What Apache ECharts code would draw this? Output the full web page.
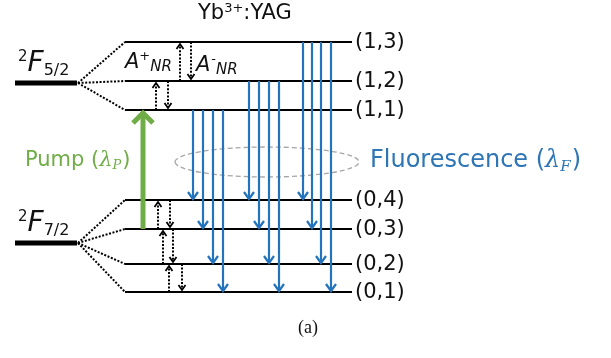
<!DOCTYPE html>
<html><head><meta charset="utf-8">
<script src="https://cdn.jsdelivr.net/npm/echarts@6/dist/echarts.min.js"></script>
<style>html,body{margin:0;padding:0;background:#fff}#c{width:611px;height:358px}</style>
</head><body><div id="c"></div>
<script>
// ---- Data: Stark sub-levels of Yb3+:YAG (diagram units, 0 = top) ----
const levelNames  = ['(1,3)','(1,2)','(1,1)','(0,4)','(0,3)','(0,2)','(0,1)'];
const levelValues = [42, 81, 110, 200, 229, 264, 292];
const levelSpan   = [125, 352];
// Manifolds
const manifoldSub   = ['5/2', '7/2'];
const manifoldValues = [83, 243];
const manifoldSpan  = [15, 77];
const manifoldLevels = [['(1,3)','(1,2)','(1,1)'], ['(0,4)','(0,3)','(0,2)','(0,1)']];
// Fluorescence transitions
const fluoFrom = ['(1,1)','(1,1)','(1,1)','(1,1)','(1,2)','(1,2)','(1,2)','(1,2)','(1,3)','(1,3)','(1,3)','(1,3)'];
const fluoTo   = ['(0,4)','(0,3)','(0,2)','(0,1)','(0,4)','(0,3)','(0,2)','(0,1)','(0,4)','(0,3)','(0,2)','(0,1)'];
const fluoX    = [193, 203, 213, 223, 249, 259, 269, 279, 303, 312, 321, 331];
// Non-radiative thermalisation (A+NR up, A-NR down)
const nrUpper = ['(1,3)','(1,2)','(0,4)','(0,3)','(0,2)'];
const nrLower = ['(1,2)','(1,1)','(0,3)','(0,2)','(0,1)'];
const nrUpX   = [180, 156, 158, 163, 169];
const nrDownX = [191, 168, 170, 173, 182];
// Pump transition
const pumpFrom = '(0,3)', pumpTo = '(1,1)', pumpX = 143;

const FONT = 'DejaVu Sans';
const BLUE = '#2373bd', GREEN = '#70ad47';
const lv = n => levelValues[levelNames.indexOf(n)];
const mctx = document.createElement('canvas').getContext('2d');
function tw(s, size, italic, family) { mctx.font = (italic ? 'italic ' : '') + size + 'px "' + (family || FONT) + '"'; return mctx.measureText(s).width; }
function T(x, y, s, size, color, o) {
  o = o || {};
  return { type: 'text', x: x, y: y, style: { text: s, fontSize: size, fontFamily: o.family || FONT,
    fontStyle: o.italic ? 'italic' : 'normal', fill: color, align: o.align || 'left', verticalAlign: 'middle' } };
}
function seq(x, y, parts, color) {
  const out = [];
  parts.forEach(p => {
    out.push(T(x, y + (p.dy || 0), p.s, p.size, p.color || color, p));
    x += tw(p.s, p.size, p.italic, p.family) + (p.gap || 0);
  });
  return out;
}
function L(x1, y1, x2, y2, color, w, dash) {
  return { type: 'line', shape: { x1, y1, x2, y2 }, style: { stroke: color, lineWidth: w, lineDash: dash || null } };
}
function P(pts, color, w) {
  return { type: 'polyline', shape: { points: pts }, style: { stroke: color, lineWidth: w, fill: null } };
}

const chart = echarts.init(document.getElementById('c'));
chart.setOption({
  animation: false,
  grid: { left: 0, right: 0, top: 0, bottom: 0 },
  xAxis: { type: 'value', min: 0, max: 611, show: false },
  yAxis: { type: 'value', min: 0, max: 358, inverse: true, show: false },
  series: [
    { // dashed ellipse around fluorescence
      type: 'custom', data: [[267, 162, 92, 15]],
      renderItem: (p, api) => {
        const c = api.coord([api.value(0), api.value(1)]);
        return { type: 'ellipse', shape: { cx: c[0], cy: c[1], rx: api.value(2), ry: api.value(3) },
          style: { stroke: '#a6a6a6', lineWidth: 1.3, lineDash: [5, 3], fill: null } };
      }
    },
    { // sub-levels
      type: 'custom', data: levelValues.map((v, i) => [levelSpan[1], v, i]),
      renderItem: (p, api) => {
        const a = api.coord([levelSpan[0], api.value(1)]);
        const b = api.coord([levelSpan[1], api.value(1)]);
        return { type: 'group', children: [
          L(a[0], a[1], b[0], b[1], '#000', 2),
          T(b[0] + 3, b[1] + 1, levelNames[api.value(2)], 21, '#111')
        ] };
      }
    },
    { // manifolds
      type: 'custom', data: manifoldValues.map((v, i) => [manifoldSpan[1], v, i]),
      renderItem: (p, api) => {
        const i = api.value(2);
        const a = api.coord([manifoldSpan[0], api.value(1)]);
        const b = api.coord([manifoldSpan[1], api.value(1)]);
        const ch = [L(a[0], a[1], b[0], b[1], '#000', 5)];
        manifoldLevels[i].forEach(n => {
          const t = api.coord([levelSpan[0], lv(n)]);
          ch.push(L(b[0] + 1, b[1], t[0], t[1], '#000', 2, [2, 1.6]));
        });
        ch.push(...seq(a[0] + 3, a[1] - 19, [
          { s: '2', size: 15, dy: -7 },
          { s: 'F', size: 28, italic: true, dy: 0, gap: 0 },
          { s: manifoldSub[i], size: 16, dy: 7 }
        ], '#111'));
        return { type: 'group', children: ch };
      }
    },
    { // pump arrow
      type: 'custom', data: [[pumpX, lv(pumpFrom), lv(pumpTo)]],
      renderItem: (p, api) => {
        const a = api.coord([api.value(0), api.value(1)]);
        const b = api.coord([api.value(0), api.value(2)]);
        return { type: 'group', children: [
          L(a[0], a[1], b[0], b[1] + 4, GREEN, 5),
          P([[b[0] - 10, b[1] + 13], [b[0], b[1] + 3], [b[0] + 10, b[1] + 13]], GREEN, 5)
        ] };
      }
    },
    { // fluorescence arrows
      type: 'custom', data: fluoX.map((x, i) => [x, lv(fluoFrom[i]), lv(fluoTo[i])]),
      renderItem: (p, api) => {
        const a = api.coord([api.value(0), api.value(1)]);
        const b = api.coord([api.value(0), api.value(2)]);
        return { type: 'group', children: [
          L(a[0], a[1], b[0], b[1] - 1, BLUE, 2.2),
          P([[b[0] - 5, b[1] - 8], [b[0], b[1] - 1], [b[0] + 5, b[1] - 8]], BLUE, 2.2)
        ] };
      }
    },
    { // non-radiative arrows
      type: 'custom', data: nrUpX.map((x, i) => [x, lv(nrLower[i]), lv(nrUpper[i]), nrDownX[i]]),
      renderItem: (p, api) => {
        const lo = api.value(1), up = api.value(2);
        const u1 = api.coord([api.value(0), lo]), u2 = api.coord([api.value(0), up]);
        const d1 = api.coord([api.value(3), up]), d2 = api.coord([api.value(3), lo]);
        return { type: 'group', children: [
          L(u1[0], u1[1], u2[0], u2[1] + 3, '#000', 2, [2, 1.6]),
          P([[u2[0] - 3.5, u2[1] + 7], [u2[0], u2[1] + 2], [u2[0] + 3.5, u2[1] + 7]], '#000', 1.8),
          L(d1[0], d1[1], d2[0], d2[1] - 3, '#000', 2, [2, 1.6]),
          P([[d2[0] - 3.5, d2[1] - 7], [d2[0], d2[1] - 2], [d2[0] + 3.5, d2[1] - 7]], '#000', 1.8)
        ] };
      }
    },
    { // annotations
      type: 'custom', data: [[0, 0]],
      renderItem: (p, api) => {
        const o = api.coord([0, 0]);
        const X = v => o[0] + v, Y = v => o[1] + v;
        const ch = [];
        ch.push(...seq(X(198), Y(14), [
          { s: 'Yb', size: 21 }, { s: '3+', size: 13, dy: -5 }, { s: ':YAG', size: 21 }
        ], '#111'));
        ch.push(...seq(X(125), Y(63), [
          { s: 'A', size: 21, italic: true }, { s: '+', size: 13, dy: -6 }, { s: 'NR', size: 15, italic: true, dy: 4 }
        ], '#111'));
        ch.push(...seq(X(196), Y(66), [
          { s: 'A', size: 21, italic: true, gap: 1 }, { s: '-', size: 13, dy: -6 }, { s: 'NR', size: 15, italic: true, dy: 4 }
        ], '#111'));
        ch.push(...seq(X(25), Y(161), [
          { s: 'Pump (', size: 21 }, { s: 'λ', size: 21, italic: true, family: 'DejaVu Serif' },
          { s: 'P', size: 13, italic: true, family: 'DejaVu Serif', dy: 5, gap: 1 }, { s: ')', size: 21 }
        ], GREEN));
        ch.push(...seq(X(370), Y(161), [
          { s: 'Fluorescence (', size: 24 }, { s: 'λ', size: 24, italic: true, family: 'DejaVu Serif' },
          { s: 'F', size: 15, italic: true, family: 'DejaVu Serif', dy: 6, gap: 1 }, { s: ')', size: 24 }
        ], '#2e75b6'));
        ch.push(T(X(308), Y(328), '(a)', 18, '#111', { align: 'center', family: 'Liberation Serif' }));
        return { type: 'group', children: ch };
      }
    }
  ]
});
</script>
</body></html>
